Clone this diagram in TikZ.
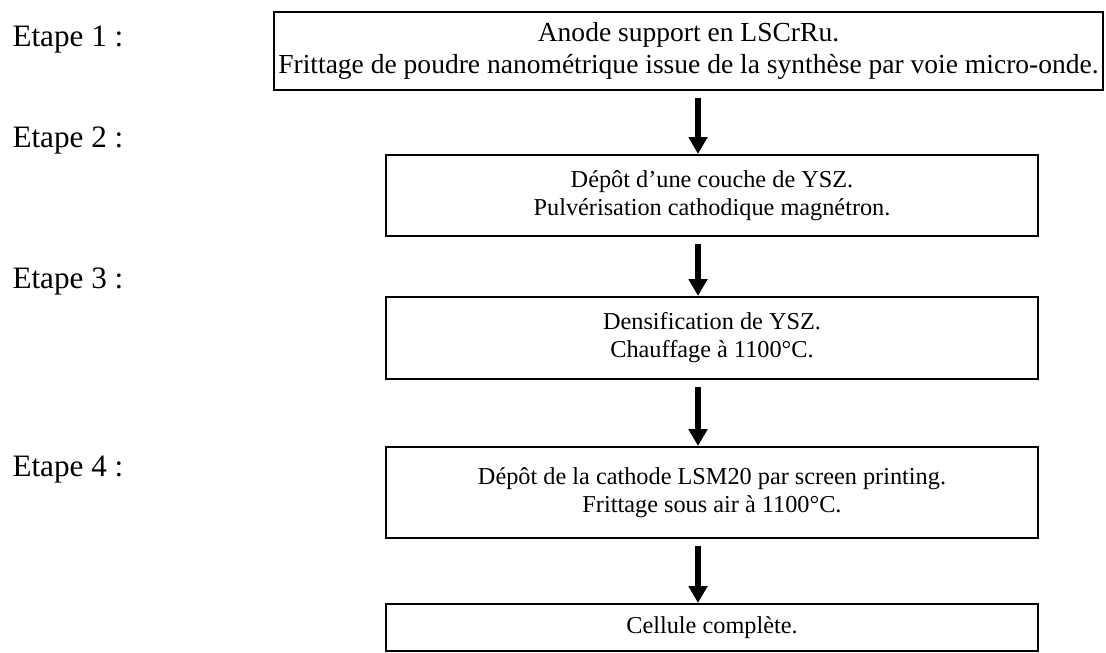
\documentclass[tikz,border=0pt]{standalone}
\usepackage{fontspec}
\setmainfont{Liberation Serif}
\usetikzlibrary{arrows.meta}

\begin{document}
\begin{tikzpicture}[x=0.385pt,y=-0.385pt]
        \tikzset{etape/.style = {shape=rectangle,draw,line width=0.8pt,align=center,inner sep=0pt,
                font=\fontsize{9.35}{10.8}\selectfont}}
        \tikzset{steplabel/.style = {anchor=west,inner sep=0pt,font=\fontsize{12}{14}\selectfont}}
        \tikzset{edge/.style = {-{Triangle[length=6.5pt,width=7pt]},line width=2.3pt,shorten <=2.6pt}}
        \useasboundingbox (0,0) rectangle (1106,652);

        \node[etape,minimum width=319.2pt,minimum height=30pt,font=\fontsize{10.6}{12.2}\selectfont] (anode) at (688.5,51)
            {Anode support en LSCrRu.\\Frittage de poudre nanométrique issue de la synthèse par voie micro-onde.};
        \node[etape,minimum width=251pt,minimum height=31.2pt] (ysz) at (712,195.5)
            {Dépôt d’une couche de YSZ.\\Pulvérisation cathodique magnétron.};
        \node[etape,minimum width=251pt,minimum height=31.6pt] (dens) at (712,338)
            {Densification de YSZ.\\Chauffage à 1100°C.};
        \node[etape,minimum width=251pt,minimum height=35pt] (cath) at (712,492.5)
            {Dépôt de la cathode LSM20 par screen printing.\\Frittage sous air à 1100°C.};
        \node[etape,minimum width=251pt,minimum height=18.1pt] (cell) at (712,627.5)
            {Cellule complète.};

        \node[steplabel] (e1) at (12,40) {Etape 1 :};
        \node[steplabel] (e2) at (12,140) {Etape 2 :};
        \node[steplabel] (e3) at (12,281) {Etape 3 :};
        \node[steplabel] (e4) at (12,470) {Etape 4 :};

        \coordinate (ax) at (698,0);
        \draw[edge] (anode.south -| ax) -- (ysz.north -| ax);
        \draw[edge] (ysz.south -| ax) -- (dens.north -| ax);
        \draw[edge] (dens.south -| ax) -- (cath.north -| ax);
        \draw[edge] (cath.south -| ax) -- (cell.north -| ax);
    \end{tikzpicture}
\end{document}
